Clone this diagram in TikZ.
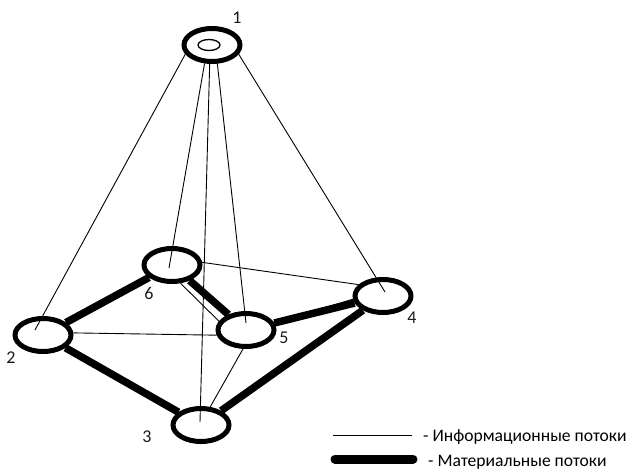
\documentclass[tikz,border=0pt]{standalone}
\usepackage{fontspec}
\setmainfont{Carlito}
\usetikzlibrary{shapes.geometric,calc}
\begin{document}
\begin{tikzpicture}[x=1pt,y=-1pt,
  station/.style={ellipse,draw,line width=5pt,minimum width=56pt,minimum height=33pt,inner sep=0pt},
  info/.style={line width=0.9pt},
  material/.style={line width=7.5pt},
  num/.style={font=\fontsize{18}{21}\selectfont,text=black!90,inner sep=0pt},
  legendtext/.style={font=\fontsize{17.6}{20}\selectfont,text=black,anchor=base west,inner sep=0pt}]
\useasboundingbox (0,0) rectangle (632,469);

% nodes of the network
\node[station] (n1) at (212,45) {};
\node[ellipse,draw,line width=1.3pt,minimum width=22pt,minimum height=11pt,inner sep=0pt] (n1in) at (209,45) {};
\node[station] (n6) at (172,265) {};
\node[station] (n5) at (246,330) {};
\node[station] (n4) at (383,296) {};
\node[station] (n2) at (43,335) {};
\node[station] (n3) at (201,425) {};

% numbers
\node[num] (l1) at (237,18) {1};
\node[num] (l6) at (149,293) {6};
\node[num] (l5) at (284,338) {5};
\node[num] (l4) at (412,318) {4};
\node[num] (l2) at (11,358) {2};
\node[num] (l3) at (147,437) {3};

% end points of the information lines inside the ellipses
\coordinate (e2) at ($(n2.center)+(-8,-5)$);
\coordinate (e6) at ($(n6.center)+(-3,3)$);
\coordinate (e3) at ($(n3.center)+(-1,-3)$);
\coordinate (e5) at ($(n5.center)+(0,-7)$);
\coordinate (e4) at ($(n4.center)+(2,-4)$);

% information flows
\draw[info] (n1.199) -- (e2);
\draw[info] (n1.248) -- (e6);
\draw[info] (n1.263) -- (e3);
\draw[info] (n1.286) -- (e5);
\draw[info] (n1.341) -- (e4);
\draw[info] (n6.5) -- (n4.155);
\draw[info] (n6.295) -- (n5.162);
\draw[info] (n5.14) -- (n4.186);
\draw[info] (n2.4) -- (n5.190);
\draw[info] (n5.261) -- (n3.63);

% material flows
\draw[material] (n2) -- (n6);
\draw[material] (n6) -- (n5);
\draw[material] (n5) -- (n4);
\draw[material] (n4) -- (n3);
\draw[material] (n3) -- (n2);

% legend
\coordinate (ia) at (333,435);
\coordinate (ib) at (412,435);
\coordinate (ma) at (335,459);
\coordinate (mb) at (413,459);
\draw[info] (ia) -- (ib);
\draw[line width=9pt,line cap=round] (ma) -- (mb);
\node[legendtext] (t1) at (423,441) {- Информационные потоки};
\node[legendtext] (t2) at (428,466) {- Материальные потоки};
\end{tikzpicture}
\end{document}
